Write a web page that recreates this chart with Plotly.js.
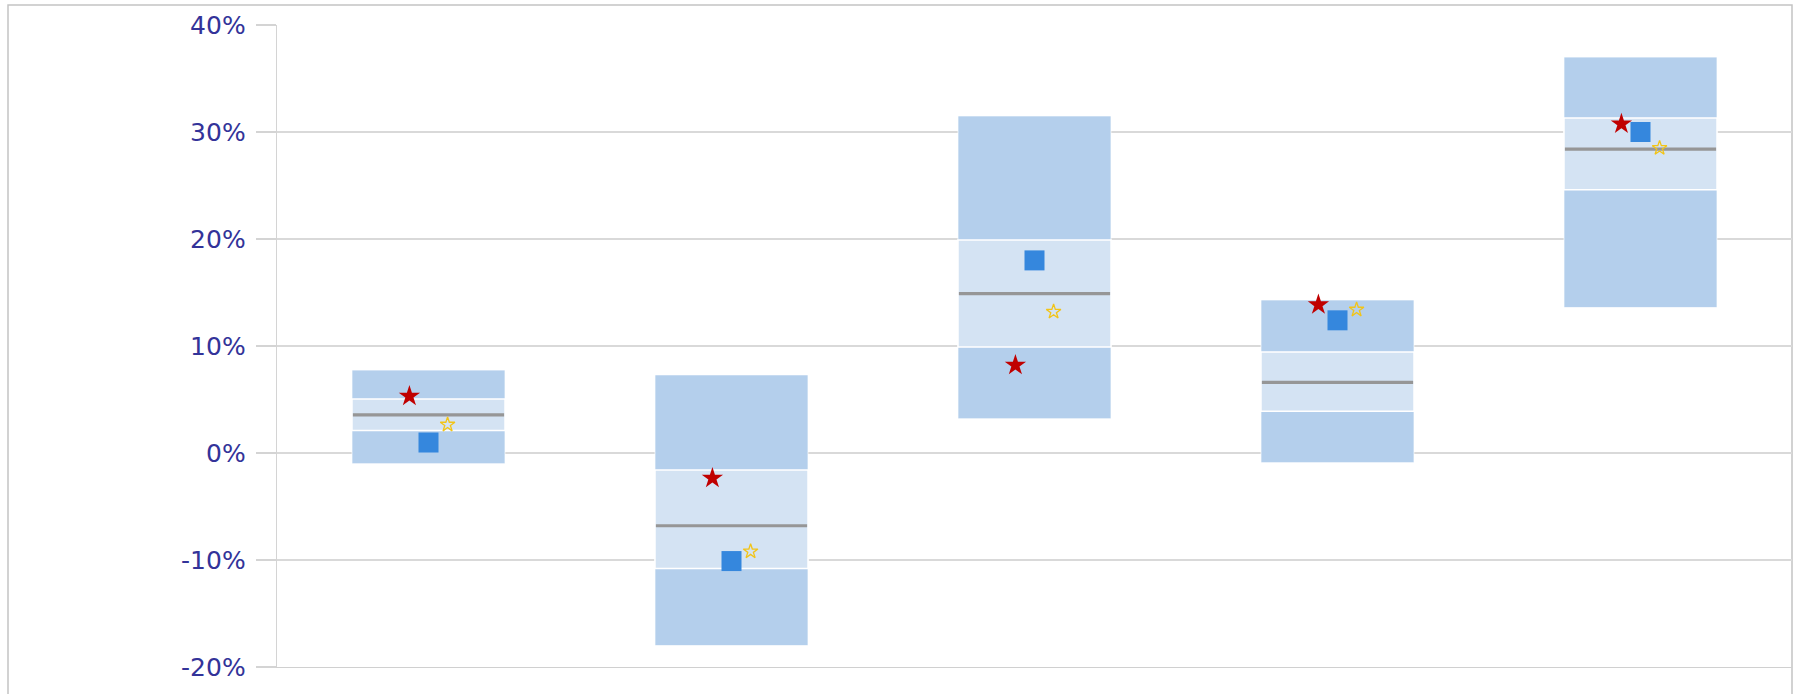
<!DOCTYPE html>
<html>
<head>
<meta charset="utf-8">
<script src="https://cdn.plot.ly/plotly-3.0.1.min.js"></script>
<style>
  html, body { margin: 0; padding: 0; background: #ffffff; }
  #chart { width: 1797px; height: 694px; }
</style>
</head>
<body>
<div id="chart"></div>
<script>
// ---- data (percent) ----
const categories = ["A", "B", "C", "D", "E"];
const rangeLow   = [-1.0, -18.0,  3.2, -0.9, 13.6];
const rangeHigh  = [ 7.75,  7.3, 31.5, 14.3, 37.0];
const bandLow    = [ 2.1, -10.8,  9.9,  3.9, 24.6];
const bandHigh   = [ 5.05, -1.6, 19.9,  9.45, 31.3];
const median     = [ 3.57, -6.8, 14.9,  6.6, 28.4];
const squareVal  = [ 0.98, -10.1, 18.0, 12.4, 30.0];
const redStarVal = [ 5.3,  -2.35,  8.2, 13.85, 30.75];
const goldStarVal= [ 2.65, -9.2,  13.2, 13.4, 28.5];
const yTicks     = [-20, -10, 0, 10, 20, 30, 40];

// ---- styling constants ----
const idx = categories.map((_, i) => i);
const OFFSET = 0.063;  // marker side offset in category units
const BOXW = 0.505;

const traces = [
  {
    type: 'bar', x: idx, base: rangeLow,
    y: rangeHigh.map((h, i) => h - rangeLow[i]),
    width: BOXW, hovertext: categories, hoverinfo: 'text', textposition: 'none',
    marker: { color: '#B4CFEC', line: { color: 'rgba(255,255,255,0.7)', width: 1 } },
    showlegend: false
  },
  {
    type: 'bar', x: idx, base: bandLow,
    y: bandHigh.map((h, i) => h - bandLow[i]),
    width: BOXW, hovertext: categories, hoverinfo: 'text', textposition: 'none',
    marker: { color: '#D4E3F3', line: { color: '#ffffff', width: 1.5 } },
    showlegend: false
  },
  {
    type: 'scatter', mode: 'markers', x: idx, y: median,
    marker: { symbol: 'line-ew', size: 108, line: { color: '#969696', width: 3.2 } },
    showlegend: false, hoverinfo: 'y'
  },
  {
    type: 'scatter', mode: 'markers', x: idx, y: squareVal,
    marker: { symbol: 'square', size: 20, color: '#3587DD', line: { width: 0 } },
    showlegend: false, hoverinfo: 'y'
  },
  {
    type: 'scatter', mode: 'markers', x: idx.map(i => i - OFFSET), y: redStarVal,
    marker: { symbol: 'star', size: 16, color: '#C00000', line: { width: 0 } },
    showlegend: false, hoverinfo: 'y'
  },
  {
    type: 'scatter', mode: 'markers', x: idx.map(i => i + OFFSET), y: goldStarVal,
    marker: { symbol: 'star-open', size: 11, color: '#F2C417', line: { color: '#F2C417', width: 1.3 } },
    showlegend: false, hoverinfo: 'y'
  }
];

const layout = {
  width: 1797, height: 694,
  margin: { l: 277, r: 5, t: 25, b: 27 },
  paper_bgcolor: '#ffffff', plot_bgcolor: '#ffffff',
  barmode: 'overlay',
  showlegend: false,
  font: { family: 'DejaVu Sans, Verdana, sans-serif', color: '#333399' },
  xaxis: {
    range: [-0.5, categories.length - 0.5],
    showgrid: false, zeroline: false,
    showticklabels: false, ticks: '',
    showline: true, linecolor: '#d0d0d0', linewidth: 1.3,
    fixedrange: true
  },
  yaxis: {
    range: [-20, 40],
    tickvals: yTicks,
    ticktext: yTicks.map(v => v + '%'),
    ticks: 'outside', ticklen: 20, tickcolor: '#d4d4d4', tickwidth: 1.3,
    ticklabelstandoff: 5,
    tickfont: { size: 25, color: '#333399', family: 'DejaVu Sans, Verdana, sans-serif' },
    showgrid: true, gridcolor: '#d9d9d9', gridwidth: 1.3,
    zeroline: false,
    showline: true, linecolor: '#d4d4d4', linewidth: 1.3,
    fixedrange: true
  },
  shapes: [
    {
      type: 'rect', xref: 'paper', yref: 'paper',
      x0: (8 - 277) / 1515, x1: 1.0,
      y0: -0.06, y1: (667 - 5) / 642,
      line: { color: '#c4c4c4', width: 1.5 },
      fillcolor: 'rgba(0,0,0,0)', layer: 'below'
    }
  ]
};

Plotly.newPlot('chart', traces, layout, { displayModeBar: false, staticPlot: true });
</script>
</body>
</html>
